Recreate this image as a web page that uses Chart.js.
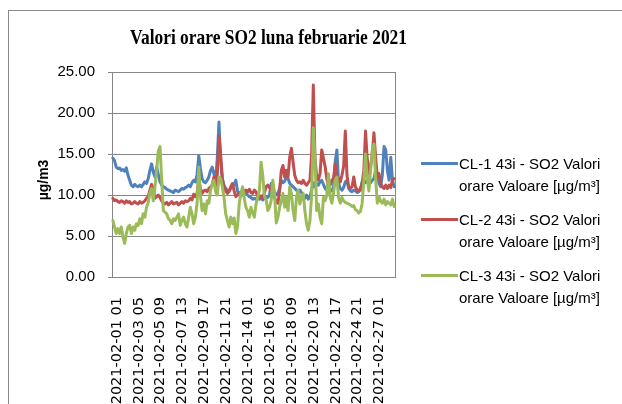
<!DOCTYPE html>
<html>
<head>
<meta charset="utf-8">
<script src="https://cdn.jsdelivr.net/npm/chart.js@4.4.1/dist/chart.umd.min.js"></script>
<style>
html,body{margin:0;padding:0;background:#fff;}
#wrap{width:622px;height:404px;position:relative;overflow:hidden;}
canvas{display:block;}
</style>
</head>
<body>
<div id="wrap"><canvas id="c" width="622" height="404"></canvas></div>
<script>
// ---- Text ----
const chartTitle = 'Valori orare SO2 luna februarie 2021';
const yAxisTitle = 'µg/m3';
const seriesLabels = [
  ['CL-1 43i - SO2 Valori', 'orare Valoare [µg/m³]'],
  ['CL-2 43i - SO2 Valori', 'orare Valoare [µg/m³]'],
  ['CL-3 43i - SO2 Valori', 'orare Valoare [µg/m³]']
];
const seriesColors = ['#4F81BD', '#C0504D', '#9BBB59'];

// ---- Categories: readings every 4 hours from 2021-02-01 01 ----
const firstReadingUTC = Date.UTC(2021, 1, 1, 1);
const stepHours = 4;
const tickEvery = 13;          // one axis label every 52 hours
const yTickValues = [0, 5, 10, 15, 20, 25];

// ---- Series values (µg/m3) ----
const cl1 = [
  14.5,14.2,13.4,13.2,13.3,13.0,13.1,12.9,13.3,12.4,
  11.8,11.2,11.0,11.3,11.1,11.0,11.2,11.0,11.3,11.6,
  11.4,12.0,13.0,13.8,12.8,12.2,13.4,12.5,11.6,11.2,
  11.0,10.9,10.7,10.6,10.5,10.4,10.3,10.6,10.5,10.4,
  10.6,10.8,10.7,10.9,
  11.0,11.2,11.0,11.5,11.8,11.6,12.5,14.8,13.2,12.0,
  11.6,11.5,11.8,12.2,13.0,13.4,12.6,11.8,14.5,18.9,
  14.0,12.0,11.2,10.8,10.6,10.5,10.8,11.0,11.3,11.8,
  10.5,10.0,9.9,10.1,10.2,10.4,10.0,9.8,9.7,9.5,
  9.6,9.5,9.7,9.5,9.6,9.4,9.6,9.8,9.7,10.0,
  11.4,11.0,10.3,10.0,10.2,10.8,11.8,11.5,11.7,12.2,
  12.0,11.4,11.2,11.0,10.8,10.6,10.4,10.6,10.3,9.8,
  9.6,10.0,9.5,9.8,10.6,11.5,11.0,11.4,11.2,11.6,
  11.8,11.3,
  10.8,10.6,10.4,10.6,10.5,11.0,14.0,15.5,11.4,10.8,
  10.6,10.9,11.6,11.8,10.8,10.5,10.4,10.6,10.5,10.3,
  10.4,10.6,11.6,11.8,11.5,11.8,12.0,11.5,11.8,12.0,
  13.0,12.6,11.4,11.0,12.5,15.9,15.5,13.0,11.8,14.6,
  11.8,11.0
];
const cl2 = [
  9.6,9.3,9.4,9.2,9.1,9.3,9.2,9.0,9.3,9.1,
  9.2,8.9,9.0,9.2,9.0,8.9,9.2,9.0,9.1,9.3,
  9.6,9.8,10.6,11.3,10.8,9.6,9.8,10.0,9.7,9.3,
  9.0,8.9,9.1,8.8,9.0,9.2,8.9,9.0,9.1,8.8,
  9.0,9.2,9.0,9.3,
  9.2,9.3,9.6,9.4,10.1,9.8,10.2,12.0,10.8,10.2,
  10.5,10.6,10.4,10.8,11.0,11.2,12.2,11.0,12.5,17.2,
  15.0,12.0,10.8,10.5,10.2,10.4,11.0,11.4,10.5,9.8,
  10.0,10.3,10.2,10.4,10.5,10.6,10.4,10.7,10.3,10.2,
  10.6,10.4,9.8,9.7,9.9,9.6,10.3,11.0,11.2,10.9,
  10.6,9.9,9.7,9.2,9.0,10.5,13.0,13.6,12.2,13.0,
  12.2,14.6,15.7,14.0,12.4,11.8,11.5,11.6,11.4,11.8,
  11.4,11.2,11.5,11.8,15.0,23.4,14.5,12.2,11.8,12.6,
  15.5,14.5,
  13.5,12.0,11.0,11.2,11.8,12.0,13.8,12.2,12.0,11.6,
  12.4,13.5,17.8,12.4,11.0,10.8,11.0,12.2,11.0,10.6,
  10.5,10.8,11.4,13.0,17.8,14.5,12.6,13.4,15.0,17.6,
  14.6,12.2,12.6,11.4,11.0,10.8,11.2,10.8,11.2,10.9,
  11.8,12.0
];
const cl3 = [
  6.9,6.1,5.3,5.9,5.3,6.1,4.9,4.1,5.3,6.1,
  6.3,5.3,6.1,5.7,6.5,6.3,7.1,6.5,7.7,7.3,
  8.5,9.1,10.2,10.8,9.3,11.0,13.0,15.4,15.9,11.8,
  8.1,7.9,7.7,7.1,6.9,6.5,7.1,6.9,7.3,7.7,
  6.3,6.9,7.3,6.5,
  6.1,7.3,8.5,7.7,6.5,7.3,9.0,13.4,9.9,8.1,
  8.9,7.7,9.3,9.0,10.6,11.4,11.8,10.4,10.0,12.2,
  12.0,11.0,9.7,7.7,6.9,6.1,7.3,6.5,7.2,5.3,
  6.1,8.9,10.2,11.0,9.6,8.5,8.1,7.3,8.5,7.8,
  7.3,8.9,9.7,10.6,14.0,12.4,9.8,9.4,8.1,8.5,
  9.3,11.8,10.0,6.6,7.3,8.5,9.3,10.2,8.5,9.7,
  8.1,11.0,10.2,8.1,6.9,9.7,10.6,8.9,9.7,10.2,
  8.1,6.5,5.7,6.9,9.9,18.2,14.5,8.1,8.9,7.3,
  6.5,9.7,
  9.3,10.0,12.6,9.8,9.0,10.2,11.8,12.2,9.7,9.0,
  9.7,9.3,9.1,9.0,8.9,8.8,8.6,8.7,8.2,8.1,
  7.8,8.0,9.0,11.8,15.0,12.0,10.5,13.0,15.5,16.2,
  12.0,9.0,9.8,9.2,9.0,9.5,8.8,9.2,9.0,8.8,
  9.5,8.6
];
const seriesValues = [cl1, cl2, cl3];

const pad2 = n => String(n).padStart(2, '0');
const categories = cl1.map((_, i) => {
  const d = new Date(firstReadingUTC + i * stepHours * 3600000);
  return d.getUTCFullYear() + '-' + pad2(d.getUTCMonth() + 1) + '-' + pad2(d.getUTCDate()) + ' ' + pad2(d.getUTCHours());
});

const GRID = '#868686';

const decor = {
  id: 'decor',
  beforeDatasetsDraw(chart) {
    const ctx = chart.ctx, a = chart.chartArea;
    ctx.save();
    ctx.strokeStyle = GRID;
    ctx.lineWidth = 1;
    ctx.strokeRect(Math.round(a.left) + 0.5, Math.round(a.top) + 0.5,
                   Math.round(a.right - a.left), Math.round(a.bottom - a.top));
    ctx.restore();
  },
  afterDraw(chart) {
    const ctx = chart.ctx, a = chart.chartArea;
    ctx.save();
    // outer chart frame
    ctx.strokeStyle = '#8a8a8a';
    ctx.lineWidth = 1;
    ctx.strokeRect(8.5, 10.5, 1000, 1000);
    // title (condensed bold serif)
    ctx.font = 'bold 22px "Liberation Serif", "Times New Roman", serif';
    const w = ctx.measureText(chartTitle).width;
    ctx.translate(268.5, 43.5);
    ctx.scale(277 / w, 1);
    ctx.fillStyle = '#000';
    ctx.textAlign = 'center';
    ctx.textBaseline = 'alphabetic';
    ctx.fillText(chartTitle, 0, 0);
    ctx.restore();

    // y axis title
    ctx.save();
    ctx.font = 'bold 14px "Liberation Sans", Arial, sans-serif';
    ctx.fillStyle = '#000';
    ctx.textAlign = 'center';
    ctx.textBaseline = 'middle';
    ctx.translate(44, (a.top + a.bottom) / 2 + 5.5);
    ctx.rotate(-Math.PI / 2);
    ctx.fillText(yAxisTitle, 0, 0);
    ctx.restore();

    // legend
    ctx.save();
    ctx.font = '15px "Liberation Sans", Arial, sans-serif';
    ctx.textAlign = 'left';
    ctx.textBaseline = 'middle';
    seriesLabels.forEach((lines, i) => {
      const y0 = 163.5 + i * 56;
      ctx.strokeStyle = seriesColors[i];
      ctx.lineWidth = 3;
      ctx.beginPath();
      ctx.moveTo(421, y0);
      ctx.lineTo(458, y0);
      ctx.stroke();
      ctx.fillStyle = '#000';
      lines.forEach((t, j) => ctx.fillText(t, 459, y0 + 1.5 + j * 21.7));
    });
    ctx.restore();
  }
};

new Chart(document.getElementById('c'), {
  type: 'line',
  data: {
    labels: categories,
    datasets: seriesValues.map((vals, i) => ({
      label: seriesLabels[i].join(' '),
      data: vals,
      borderColor: seriesColors[i],
      backgroundColor: seriesColors[i],
      order: 3 - i
    }))
  },
  options: {
    responsive: false,
    animation: false,
    devicePixelRatio: 1,
    layout: { padding: { left: 0, top: 72, right: 227, bottom: 0 } },
    elements: {
      point: { radius: 0 },
      line: { borderWidth: 3, tension: 0, borderJoinStyle: 'round', borderCapStyle: 'round' }
    },
    plugins: {
      legend: { display: false },
      title: { display: false },
      tooltip: { enabled: false }
    },
    scales: {
      x: {
        type: 'category',
        offset: true,
        grid: { display: false },
        border: { display: true, color: GRID },
        ticks: {
          autoSkip: false,
          maxRotation: 90,
          minRotation: 90,
          padding: 12,
          labelOffset: 4,
          color: '#000',
          font: { family: '"DejaVu Sans"', size: 14.5 },
          callback(v, i) { return i % tickEvery === 0 ? this.getLabelForValue(v) : null; }
        },
        afterFit(s) { s.height = 127; }
      },
      y: {
        min: yTickValues[0],
        max: yTickValues[yTickValues.length - 1],
        afterBuildTicks(s) { s.ticks = yTickValues.map(v => ({ value: v })); },
        ticks: {
          padding: 13,
          color: '#000',
          font: { family: '"Liberation Sans"', size: 15 },
          callback: v => Number(v).toFixed(2)
        },
        grid: { color: GRID, tickLength: 4, drawTicks: true },
        border: { color: GRID },
        title: { display: false },
        afterFit(s) { s.width = 112; }
      }
    }
  },
  plugins: [decor]
});
</script>
</body>
</html>
